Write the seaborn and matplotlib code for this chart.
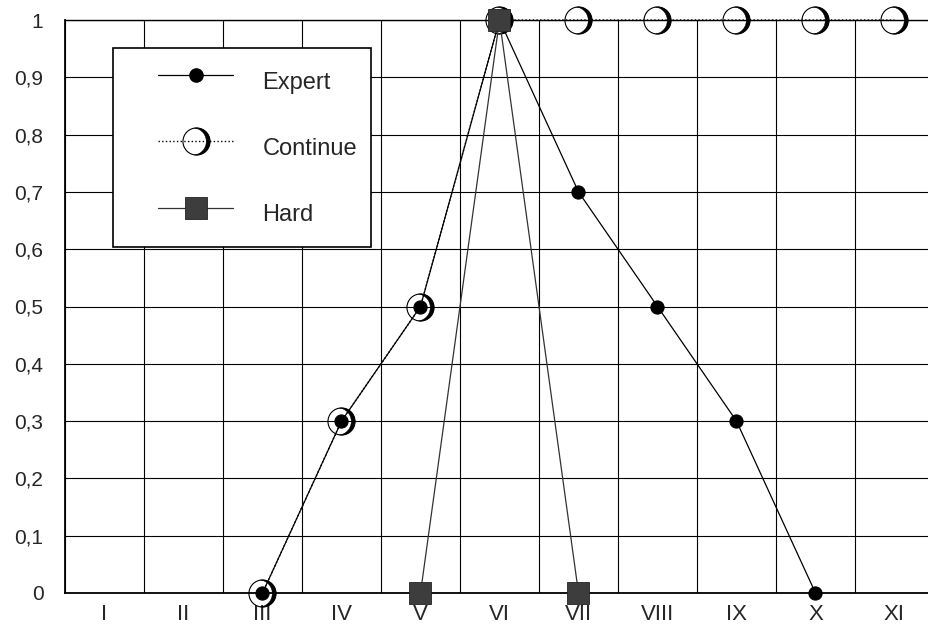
import numpy as np
import pandas as pd
import matplotlib
matplotlib.use('Agg')
import matplotlib.pyplot as plt
from matplotlib.path import Path
from matplotlib.lines import Line2D
from matplotlib.legend_handler import HandlerLine2D, HandlerTuple
import seaborn as sns

# Datos
categories = ['I', 'II', 'III', 'IV', 'V', 'VI', 'VII', 'VIII', 'IX', 'X', 'XI']
expert_cats = ['III', 'IV', 'V', 'VI', 'VII', 'VIII', 'IX', 'X']
expert_vals = [0, 0.3, 0.5, 1, 0.7, 0.5, 0.3, 0]
continue_cats = ['III', 'IV', 'V', 'VI', 'VII', 'VIII', 'IX', 'X', 'XI']
continue_vals = [0, 0.3, 0.5, 1, 1, 1, 1, 1, 1]
hard_cats = ['V', 'VI', 'VII']
hard_vals = [0, 1, 0]
y_ticks = [0, 0.1, 0.2, 0.3, 0.4, 0.5, 0.6, 0.7, 0.8, 0.9, 1]

pos = {c: i + 1 for i, c in enumerate(categories)}
expert = pd.DataFrame({'x': [pos[c] for c in expert_cats], 'y': expert_vals})
cont = pd.DataFrame({'x': [pos[c] for c in continue_cats], 'y': continue_vals})
hard = pd.DataFrame({'x': [pos[c] for c in hard_cats], 'y': hard_vals})

sns.set_style('white')
plt.rcParams['font.family'] = ['Liberation Sans', 'DejaVu Sans']

# marcador "Continue": media luna oscura a la derecha de un circulo fino
d = 0.28
a = np.arccos(-d / 2)
t_out = np.linspace(-a, a, 60)
ang_in = np.arctan2(np.sin(a), -d / 2 + d)
t_in = np.linspace(ang_in, -ang_in, 60)
verts = np.vstack([np.column_stack([np.cos(t_out), np.sin(t_out)]),
                   np.column_stack([-d + np.cos(t_in), np.sin(t_in)]),
                   [[np.cos(-a), np.sin(-a)]]])
codes = [Path.MOVETO] + [Path.LINETO] * (len(verts) - 2) + [Path.CLOSEPOLY]
crescent = Path(verts, codes)

fig = plt.figure(figsize=(9.29, 6.27), dpi=100)
ax = fig.add_axes([65 / 929, 34 / 627, 869 / 929, 573 / 627])

cont_style = dict(color='black', linestyle=':', linewidth=1.0, marker='o',
                  markersize=19.5, markerfacecolor='none', markeredgecolor='black',
                  markeredgewidth=0.8)
moon_style = dict(color='black', linestyle='none', marker=crescent,
                  markersize=19.5, markerfacecolor='black', markeredgecolor='black',
                  markeredgewidth=0.3)
expert_style = dict(color='black', linestyle='-', linewidth=0.9, marker='o',
                    markersize=9.5, markerfacecolor='black', markeredgecolor='black')
hard_style = dict(color='#333333', linestyle='-', linewidth=0.9, marker='s',
                  markersize=16, markerfacecolor='#3d3d3d', markeredgecolor='#222222',
                  markeredgewidth=0.6)

sns.lineplot(data=cont, x='x', y='y', ax=ax, clip_on=False, zorder=3, **cont_style)
sns.lineplot(data=cont, x='x', y='y', ax=ax, clip_on=False, zorder=3, **moon_style)
sns.lineplot(data=expert, x='x', y='y', ax=ax, clip_on=False, zorder=4, **expert_style)
sns.lineplot(data=hard, x='x', y='y', ax=ax, clip_on=False, zorder=5, **hard_style)

ax.set_xlim(0.5, len(categories) + 0.5)
ax.set_ylim(0, 1)
ax.set_xlabel('')
ax.set_ylabel('')

# eje x: lineas en los limites, etiquetas en el centro
ax.set_xticks(np.arange(0.5, len(categories) + 1, 1))
ax.set_xticklabels([])
ax.set_xticks(np.arange(1, len(categories) + 1), minor=True)
ax.set_xticklabels(categories, minor=True, fontsize=16)
ax.tick_params(axis='x', which='major', direction='out', length=11.5, width=1.0, color='black')
ax.tick_params(axis='x', which='minor', length=0, pad=8)

# eje y
ax.set_yticks(y_ticks)
ax.set_yticklabels([f'{v:g}'.replace('.', ',') for v in y_ticks], fontsize=15)
ax.set_yticks(np.arange(0, 1.001, 0.02), minor=True)
ax.tick_params(axis='y', which='major', direction='out', length=11.5, width=1.0,
               color='black', pad=4)
ax.tick_params(axis='y', which='minor', direction='out', length=5.8, width=1.0, color='black')

ax.grid(True, which='major', color='black', linewidth=0.8)
ax.set_axisbelow(True)
for side in ['left', 'bottom', 'top', 'right']:
    ax.spines[side].set_color('black')
    ax.spines[side].set_linewidth(1.0)
ax.spines['left'].set_linewidth(1.3)
ax.spines['bottom'].set_linewidth(1.3)

handles = [Line2D([], [], **expert_style),
           (Line2D([], [], **cont_style), Line2D([], [], **moon_style)),
           Line2D([], [], **hard_style)]
leg = ax.legend(handles, ['Expert', 'Continue', 'Hard'], loc='upper left',
                bbox_to_anchor=(113 / 929, 1 - 48 / 627), bbox_transform=fig.transFigure,
                borderaxespad=0, fontsize=17, borderpad=0.6, handlelength=4.5,
                handleheight=2.1, labelspacing=1.19, handletextpad=1.23,
                fancybox=False, framealpha=1, edgecolor='black',
                handler_map={Line2D: HandlerLine2D(xpad=1.3),
                             tuple: HandlerTuple(ndivide=1, pad=0, xpad=1.3)})
leg.get_frame().set_linewidth(1.2)

plt.savefig('out.png', dpi=100)
